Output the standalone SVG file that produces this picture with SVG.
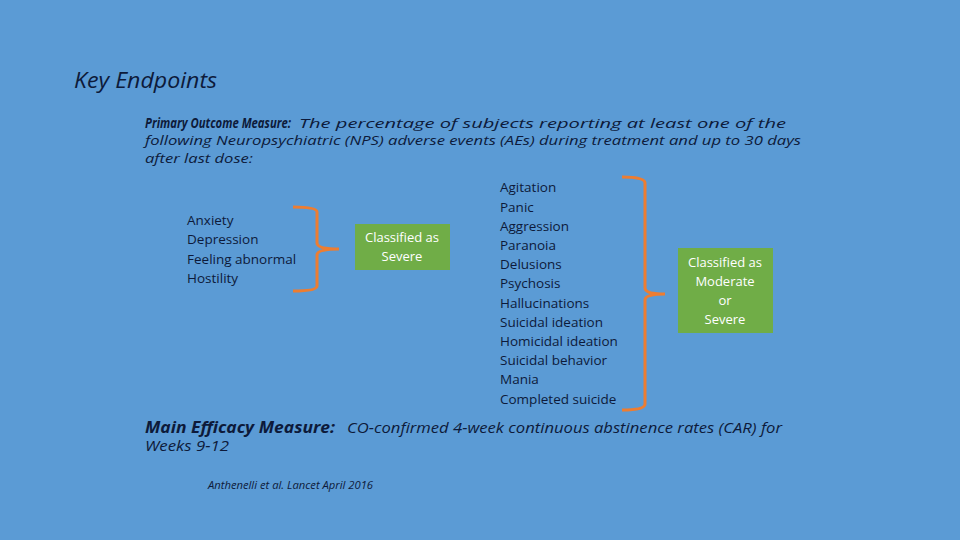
<svg xmlns="http://www.w3.org/2000/svg" width="960" height="540" viewBox="0 0 960 540">
<style>
text{font-family:"Open Sans","Noto Sans",sans-serif;fill:#0d1a3a}
.i{font-style:italic}
.b{font-weight:bold}
.l{font-size:13.5px}
.w{fill:#fff;font-size:13px}
.br{fill:none;stroke:#ED7D31;stroke-width:3}
.box{fill:#70AD47}
</style>
<rect width="960" height="540" fill="#5B9BD5"/>
<text x="74" y="88" class="i" font-size="21" textLength="143" lengthAdjust="spacingAndGlyphs">Key Endpoints</text>
<text x="145" y="128" class="i b" font-size="14" textLength="146" lengthAdjust="spacingAndGlyphs">Primary Outcome Measure:</text>
<text x="299" y="128" class="i" font-size="13.5" textLength="487" lengthAdjust="spacingAndGlyphs">The percentage of subjects reporting at least one of the</text>
<text x="145" y="145" class="i" font-size="13.5" textLength="656" lengthAdjust="spacingAndGlyphs">following Neuropsychiatric (NPS) adverse events (AEs) during treatment and up to 30 days</text>
<text x="145" y="163" class="i" font-size="13.5" textLength="108" lengthAdjust="spacingAndGlyphs">after last dose:</text>
<g id="list1"><text x="187" y="225" class="l">Anxiety</text><text x="187" y="244" class="l">Depression</text><text x="187" y="264" class="l">Feeling abnormal</text><text x="187" y="283" class="l">Hostility</text></g>
<g id="connectors">
<path class="br" d="M293,207 Q317,207 317,212 L317,243 Q317,249 339,249 Q317,249 317,255 L317,286 Q317,291 293,291"/>
<path class="br" d="M622,177 Q645,177 645,183 L645,288 Q645,294 665,294 Q645,294 645,300 L645,404 Q645,410 622,410"/>
</g>
<g id="box1"><rect class="box" x="355" y="224" width="95" height="46"/><text class="w" x="402" y="242" text-anchor="middle">Classified as</text><text class="w" x="402" y="261" text-anchor="middle">Severe</text></g>
<g id="list2">
<text class="l" x="500" y="192">Agitation</text><text class="l" x="500" y="212">Panic</text><text class="l" x="500" y="231">Aggression</text><text class="l" x="500" y="250">Paranoia</text><text class="l" x="500" y="269">Delusions</text><text class="l" x="500" y="288">Psychosis</text><text class="l" x="500" y="308">Hallucinations</text><text class="l" x="500" y="327">Suicidal ideation</text><text class="l" x="500" y="346">Homicidal ideation</text><text class="l" x="500" y="365">Suicidal behavior</text><text class="l" x="500" y="384">Mania</text><text class="l" x="500" y="404">Completed suicide</text>
</g>
<g id="box2"><rect class="box" x="678" y="248" width="95" height="85"/><text class="w" x="725" y="267" text-anchor="middle">Classified as</text><text class="w" x="725" y="286" text-anchor="middle">Moderate</text><text class="w" x="725" y="305" text-anchor="middle">or</text><text class="w" x="725" y="324" text-anchor="middle">Severe</text></g>
<text x="145" y="433" class="i b" font-size="16" textLength="190" lengthAdjust="spacingAndGlyphs">Main Efficacy Measure:</text>
<text x="347" y="433" class="i" font-size="14" textLength="435" lengthAdjust="spacingAndGlyphs">CO-confirmed 4-week continuous abstinence rates (CAR) for</text>
<text x="145" y="451" class="i" font-size="14" textLength="84" lengthAdjust="spacingAndGlyphs">Weeks 9-12</text>
<text x="208" y="489" class="i" font-size="10" textLength="165" lengthAdjust="spacingAndGlyphs">Anthenelli et al. Lancet April 2016</text>
</svg>
